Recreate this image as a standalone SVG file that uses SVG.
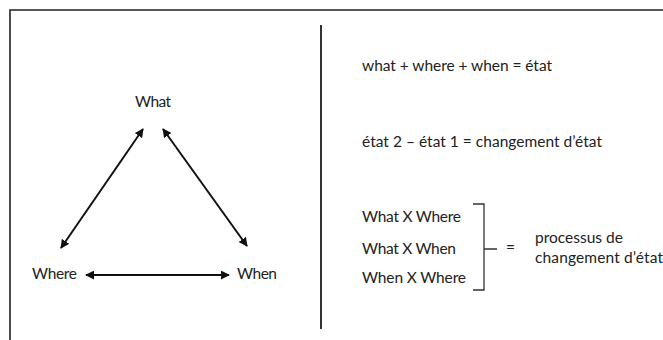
<svg xmlns="http://www.w3.org/2000/svg" width="663" height="340" viewBox="0 0 663 340">
  <style>
    .t { font-family: Lato, "Open Sans", "Liberation Sans", sans-serif; font-size: 15.5px; fill: #222; }
    .frame { fill: none; stroke: #222; stroke-width: 1.6; }
    .conn { fill: none; stroke: #111; stroke-width: 2; }
    .br { fill: none; stroke: #333; stroke-width: 1.3; }
  </style>
  <defs>
    <marker id="ah" viewBox="0 0 10 10" refX="9" refY="5" markerWidth="4.5" markerHeight="4.5" orient="auto-start-reverse" markerUnits="strokeWidth">
      <path d="M0,0 L10,5 L0,10 z" fill="#111"/>
    </marker>
  </defs>
  <rect x="0" y="0" width="663" height="340" fill="#fff"/>
  <g id="frame">
    <path class="frame" d="M10,340 V10 H663"/>
    <line x1="321" y1="25" x2="321" y2="329" stroke="#333" stroke-width="2"/>
  </g>
  <g id="node-what"><text class="t" x="135" y="107" textLength="36">What</text></g>
  <g id="node-where"><text class="t" x="32" y="279" textLength="45">Where</text></g>
  <g id="node-when"><text class="t" x="237" y="279" textLength="40">When</text></g>
  <g id="connectors">
    <line class="conn" x1="61" y1="248" x2="143" y2="129" marker-start="url(#ah)" marker-end="url(#ah)"/>
    <line class="conn" x1="163" y1="129" x2="247" y2="246" marker-start="url(#ah)" marker-end="url(#ah)"/>
    <line class="conn" x1="86" y1="275" x2="229" y2="275" marker-start="url(#ah)" marker-end="url(#ah)"/>
  </g>
  <g id="formulas">
    <text class="t" x="362" y="71" textLength="190">what + where + when = état</text>
    <text class="t" x="362" y="147" textLength="240">état 2 – état 1 = changement d’état</text>
  </g>
  <g id="products">
    <text class="t" x="362" y="222" textLength="99">What X Where</text>
    <text class="t" x="362" y="254" textLength="94">What X When</text>
    <text class="t" x="362" y="283" textLength="104">When X Where</text>
    <path class="br" d="M473,204 H484 V290 H473 M484,249 H497"/>
    <text class="t" x="506" y="253">=</text>
    <text class="t" x="535" y="243">processus de</text>
    <text class="t" x="535" y="263" textLength="128">changement d’état</text>
  </g>
</svg>
